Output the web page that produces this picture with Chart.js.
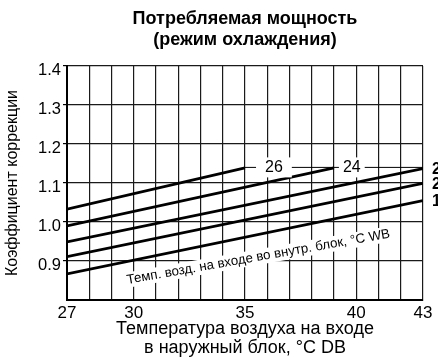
<!DOCTYPE html>
<html>
<head>
<meta charset="utf-8">
<script src="https://cdn.jsdelivr.net/npm/chart.js@4/dist/chart.umd.min.js"></script>
<style>
  html, body { margin: 0; padding: 0; background: #fff; }
</style>
</head>
<body>
<canvas id="chart" width="438" height="361"></canvas>
<script>
// Indoor wet-bulb temperature of each curve, °C WB
const WB_LABELS = ['26', '24', '22', '20', '18'];
// Outdoor dry-bulb temperature at the ends of each curve, °C DB
const OUTDOOR_DB = [[27, 35], [27, 39], [27, 43], [27, 43], [27, 43]];
// Correction factor at those ends
const CORRECTION = [[1.033, 1.139], [0.990, 1.139], [0.949, 1.137], [0.911, 1.099], [0.867, 1.055]];

const X_TICK_LABELS = [27, 30, 35, 40, 43];
const Y_TICK_LABELS = [0.9, 1.0, 1.1, 1.2, 1.3, 1.4];
const LEADER_LEVEL = 1.14; // level of the "26" / "24" leader line

const FONT = '"Liberation Sans", Arial, sans-serif';

const datasets = WB_LABELS.map((label, i) => ({
    label,
    data: OUTDOOR_DB[i].map((x, j) => ({ x, y: CORRECTION[i][j] })),
    borderColor: '#000',
    borderWidth: 2.8,
    pointRadius: 0,
    fill: false,
    tension: 0,
}));

function whiteBoxText(ctx, text, x, y, padX, padY) {
    const w = ctx.measureText(text).width;
    const h = parseFloat(ctx.font.match(/([\d.]+)px/)[1]);
    ctx.fillStyle = '#fff';
    ctx.fillRect(x - w / 2 - padX, y - h / 2 - padY, w + padX * 2, h + padY * 2);
    ctx.fillStyle = '#000';
    ctx.fillText(text, x, y);
}

const annotations = {
    id: 'annotations',
    beforeDatasetsDraw(chart) {
        // slanted caption across the grid
        const { ctx, scales: { x, y } } = chart;
        ctx.save();
        ctx.translate(x.getPixelForValue(35.6), y.getPixelForValue(0.91));
        ctx.rotate(-10 * Math.PI / 180);
        ctx.font = `13.3px ${FONT}`;
        ctx.textAlign = 'center';
        ctx.textBaseline = 'middle';
        whiteBoxText(ctx, 'Темп. возд. на входе во внутр. блок, °C WB', 0, 0, 3, 1);
        ctx.restore();
    },
    afterDatasetsDraw(chart) {
        const { ctx, chartArea, scales: { x, y } } = chart;
        ctx.save();

        // leader line for the curves that stop inside the grid
        const ly = y.getPixelForValue(LEADER_LEVEL);
        ctx.strokeStyle = '#000';
        ctx.lineWidth = 1;
        ctx.beginPath();
        ctx.moveTo(x.getPixelForValue(OUTDOOR_DB[0][1]), ly);
        ctx.lineTo(chartArea.right, ly);
        ctx.stroke();

        ctx.font = `16px ${FONT}`;
        ctx.textAlign = 'center';
        ctx.textBaseline = 'middle';
        whiteBoxText(ctx, WB_LABELS[0], x.getPixelForValue(36.3), ly, 9, 2);
        whiteBoxText(ctx, WB_LABELS[1], x.getPixelForValue(39.8), ly, 4, 2);

        // labels at the right edge (run off the canvas, as in the original)
        ctx.font = `bold 16px ${FONT}`;
        ctx.textAlign = 'left';
        for (let i = 2; i < WB_LABELS.length; i++) {
            const last = CORRECTION[i].length - 1;
            ctx.fillText(WB_LABELS[i], chartArea.right + 9, y.getPixelForValue(CORRECTION[i][last]) + 1);
        }

        // chart title
        const cx = (chartArea.left + chartArea.right) / 2;
        ctx.font = `bold 18px ${FONT}`;
        ctx.textAlign = 'center';
        ctx.fillText('Потребляемая мощность', cx, 19);
        ctx.fillText('(режим охлаждения)', cx, 40);
        ctx.restore();
    },
};

new Chart(document.getElementById('chart'), {
    type: 'line',
    data: { datasets },
    plugins: [annotations],
    options: {
        responsive: false,
        animation: false,
        layout: { padding: { top: 66, right: 15, left: 0, bottom: 0 } },
        plugins: {
            legend: { display: false },
            tooltip: { enabled: false },
        },
        scales: {
            x: {
                type: 'linear',
                min: 27,
                max: 43,
                afterFit: (scale) => { scale.height = 61; },
                ticks: {
                    stepSize: 1,
                    autoSkip: false,
                    maxRotation: 0,
                    padding: 3,
                    color: '#000',
                    font: { family: FONT, size: 17 },
                    callback: (v) => X_TICK_LABELS.includes(v) ? String(v) : '',
                },
                grid: { color: '#1a1a1a', lineWidth: 1.2, drawTicks: false },
                border: { color: '#000', width: 2 },
                title: {
                    display: true,
                    text: ['Температура воздуха на входе', 'в наружный блок, °C DB'],
                    color: '#000',
                    font: { family: FONT, size: 18, lineHeight: 1.08 },
                    padding: { top: 0, bottom: 3 },
                },
            },
            y: {
                min: 0.8,
                max: 1.4,
                afterFit: (scale) => { scale.width = 67; },
                ticks: {
                    stepSize: 0.05,
                    maxTicksLimit: 20,
                    padding: 2,
                    labelOffset: 4,
                    color: '#000',
                    font: { family: FONT, size: 16.5 },
                    callback: (v) => {
                        const r = Math.round(v * 100) / 100;
                        return Y_TICK_LABELS.some(t => Math.abs(t - r) < 1e-6) ? r.toFixed(1) : '';
                    },
                },
                grid: {
                    color: '#1a1a1a',
                    lineWidth: 1.2,
                    tickLength: 4,
                    tickColor: (c) => (c.tick && c.tick.label ? '#000' : 'rgba(0,0,0,0)'),
                },
                border: { color: '#000', width: 2 },
                title: {
                    display: true,
                    text: 'Коэффициент коррекции',
                    color: '#000',
                    font: { family: FONT, size: 16, lineHeight: 1.2 },
                    padding: { top: 3, bottom: 0 },
                },
            },
        },
    },
});
</script>
</body>
</html>
